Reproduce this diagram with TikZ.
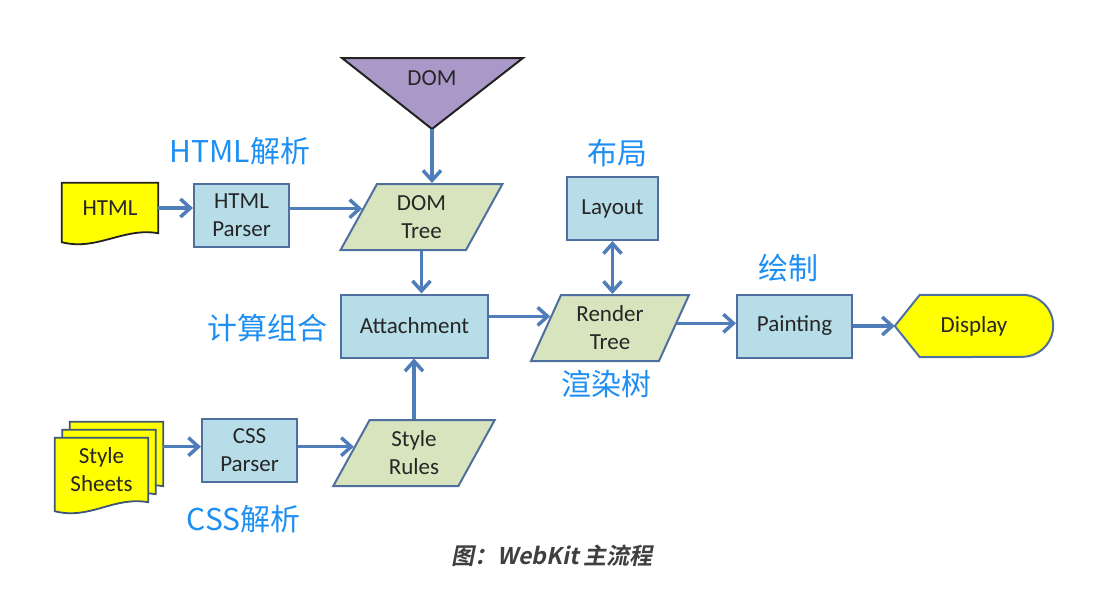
\documentclass[tikz,border=0pt]{standalone}
\usepackage{fontspec}
\setmainfont{Carlito}
\newfontfamily\cjkfont{Noto Sans CJK SC}
\newfontfamily\capfont{Noto Sans CJK SC Bold}[FakeSlant=0.2]
\usetikzlibrary{
  arrows.meta,
  backgrounds,
  calc,
  shapes.geometric
}
\definecolor{ink}{HTML}{262626}
\definecolor{capink}{HTML}{3F3F3F}
\definecolor{edgeblue}{HTML}{4F6F9F}
\definecolor{arrowblue}{HTML}{4F7DBA}
\definecolor{procfill}{HTML}{B7DDE8}
\definecolor{datafill}{HTML}{D7E4BD}
\definecolor{docyellow}{HTML}{FFFF00}
\definecolor{docedge}{HTML}{222222}
\definecolor{sheetedge}{HTML}{3E5577}
\definecolor{domfill}{HTML}{AA99C8}
\definecolor{tagblue}{HTML}{1E8FF2}
% document outline round a node, moved by an offset
\newcommand{\docsheet}[3][sheet]{%
  \draw[#1] ($(#2.north west)+(#3)$) -- ($(#2.north east)+(#3)$)
    -- ($(#2.south east)+(#3)$)
    .. controls ($(#2.south east)+(#3)+(-35,-6)$) and ($(#2.south west)+(#3)+(35,18)$)
    .. ($(#2.south west)+(#3)+(0,9)$) -- cycle;}
\tikzset{
  flow/.style={
    -{Straight Barb[length=10pt,width=18pt]},
    line width=3.5pt,
    draw=arrowblue
  },
  dflow/.style={
    {Straight Barb[length=10pt,width=18pt]}-{Straight Barb[length=10pt,width=18pt]},
    line width=3.5pt,
    draw=arrowblue
  },
  process/.style={
    draw=edgeblue,
    fill=procfill,
    line width=2pt,
    minimum height=63pt,
    inner sep=0pt,
    align=center
  },
  data/.style={
    trapezium,
    trapezium left angle=65,
    trapezium right angle=115,
    trapezium stretches=true,
    draw=edgeblue,
    fill=datafill,
    line width=2pt,
    minimum width=162pt,
    minimum height=66pt,
    inner sep=0pt,
    align=center
  },
  docnode/.style={
    minimum width=96pt,
    minimum height=50pt,
    inner sep=0pt,
    align=center
  },
  sheet/.style={
    draw=sheetedge,
    fill=docyellow,
    line width=1.8pt
  },
  htmlsheet/.style={
    sheet,
    draw=docedge
  },
  dispnode/.style={
    minimum width=158pt,
    minimum height=62pt,
    inner sep=0pt
  },
  dispshape/.style={
    draw=edgeblue,
    fill=docyellow,
    line width=2pt
  },
  domshape/.style={
    draw=docedge,
    fill=domfill,
    line width=2pt
  },
  tag/.style={
    text=tagblue,
    font=\cjkfont\fontsize{30}{36}\selectfont
  },
  caption/.style={
    text=capink,
    font=\capfont\fontsize{23}{27}\selectfont
  }
}

\begin{document}
\begin{tikzpicture}[x=1pt, y=-1pt, font=\fontsize{23}{28}\selectfont, text=ink]
  \useasboundingbox (0,0) rectangle (1106,600);

  % DOM source
  \filldraw[domshape] (342,58) -- (523,58) -- (432,129) -- cycle;
  \node (dom) at (432,78) {DOM};
  \coordinate (domtip) at (432,129);

  \node[docnode] (html) at (110,208) {HTML};
  \node[process, minimum width=95pt] (htmlp) at (241.5,215) {HTML\\Parser};
  \node[data] (domtree) at (421.5,217) {DOM\\Tree};
  \node[process, minimum width=147pt] (attach) at (414.5,326) {Attachment};
  \node[process, minimum width=91pt] (layout) at (612.5,208.5) {Layout};
  \node[data, minimum width=158pt] (rtree) at (610,328) {Render\\Tree};
  \node[process, minimum width=115pt] (painting) at (794.5,326) {Painting};
  \node[dispnode] (display) at (974,326) {Display};
  \node[docnode, minimum width=93pt, minimum height=64pt] (sheets) at (101.5,470) {Style\\Sheets};
  \node[process, minimum width=95pt] (cssp) at (249.5,450.5) {CSS\\Parser};
  \node[data] (rules) at (414,453) {Style\\Rules};

  \begin{scope}[on background layer]
    \docsheet[htmlsheet]{html}{0,0}
    \docsheet{sheets}{15,-16}
    \docsheet{sheets}{7.5,-8}
    \docsheet{sheets}{0,0}
    \draw[dispshape] (display.west) -- ($(display.north west)+(25,0)$)
      -- ($(display.north east)+(-31,0)$) arc[start angle=-90, end angle=90, radius=31]
      -- ($(display.south west)+(25,0)$) -- cycle;
  \end{scope}

  % labels
  \node[tag] (htmltag) at (240,151) {HTML解析};
  \node[tag] (layouttag) at (617,153) {布局};
  \node[tag] (painttag) at (788,268) {绘制};
  \node[tag] (attachtag) at (267,328) {计算组合};
  \node[tag] (rtreetag) at (606,384) {渲染树};
  \node[tag] (csstag) at (243.5,519) {CSS解析};
  \node[caption] (title) at (552,556) {图：WebKit 主流程};

  \draw[flow] (domtip) -- (domtip |- domtree.north);
  \draw[flow] (html.east) -- (htmlp.west |- html.east);
  \draw[flow] (htmlp.east |- domtree.172) -- (domtree.172);
  \draw[flow] (domtree.south) -- (domtree.south |- attach.north);
  \draw[flow] (rules.north) -- (rules.north |- attach.south);
  \draw[flow] ([xshift=15pt]sheets.east |- rules.174) -- (cssp.west |- rules.174);
  \draw[flow] (cssp.east |- rules.174) -- (rules.174);
  \draw[flow] (attach.east |- rtree.169) -- (rtree.169);
  \draw[flow] (rtree.4) -- (rtree.4 -| painting.west);
  \draw[flow] (painting.east) -- (display.west);
  \draw[dflow] (layout.south) -- (layout.south |- rtree.north);
\end{tikzpicture}
\end{document}
